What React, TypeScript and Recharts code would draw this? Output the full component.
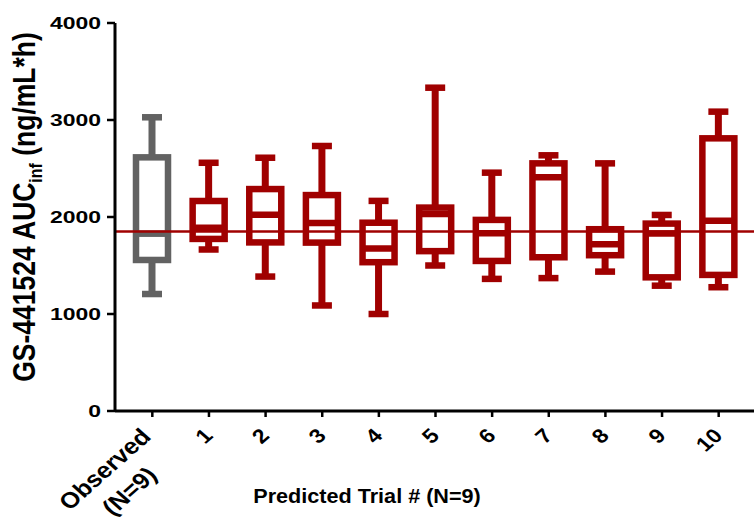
import React from 'react';
import { BarChart, Bar, XAxis, YAxis, ReferenceLine } from 'recharts';

// box plot values, one entry per group
const categories = ['Observed\n(N=9)', '1', '2', '3', '4', '5', '6', '7', '8', '9', '10'];
const whiskerLow = [1206, 1665, 1386, 1088, 1000, 1500, 1362, 1370, 1437, 1292, 1276];
const q1 = [1557, 1774, 1738, 1736, 1534, 1648, 1547, 1585, 1606, 1378, 1403];
const median = [1828, 1888, 2022, 1938, 1674, 2032, 1833, 2410, 1720, 1830, 1962];
const q3 = [2615, 2165, 2288, 2226, 1941, 2097, 1970, 2553, 1874, 1932, 2811];
const whiskerHigh = [3028, 2559, 2611, 2732, 2166, 3333, 2457, 2636, 2553, 2021, 3086];
const yTicks = [0, 1000, 2000, 3000, 4000];
const referenceValue = 1850;

const RED = '#a00000';
const GRAY = '#626262';
const FONT = '"Liberation Sans", Arial, Helvetica, sans-serif';

const data = categories.map((name, i) => ({
  name,
  range: [whiskerLow[i], whiskerHigh[i]],
  min: whiskerLow[i],
  q1: q1[i],
  median: median[i],
  q3: q3[i],
  max: whiskerHigh[i],
}));

// the bar covers min..max; the rest of the box is placed inside that span
const BoxShape = (props: any) => {
  const { x, y, width, height, payload, index } = props;
  if (x == null || y == null) return null;
  const top = Math.min(y, y + height);
  const span = Math.abs(height);
  const range = payload.max - payload.min;
  const toY = (v: number) => top + ((payload.max - v) / range) * span;
  const cx = x + width / 2;
  const color = index === 0 ? GRAY : RED;
  const sw = 6.5;
  const capW = 20;
  const yMax = toY(payload.max);
  const yQ3 = toY(payload.q3);
  const yMed = toY(payload.median);
  const yQ1 = toY(payload.q1);
  const yMin = toY(payload.min);
  return (
    <g>
      <line x1={cx} x2={cx} y1={yMax} y2={yQ3} stroke={color} strokeWidth={7} />
      <line x1={cx} x2={cx} y1={yQ1} y2={yMin} stroke={color} strokeWidth={7} />
      <rect x={cx - capW / 2} y={yMax - sw / 2} width={capW} height={sw} fill={color} />
      <rect x={cx - capW / 2} y={yMin - sw / 2} width={capW} height={sw} fill={color} />
      <rect x={x} y={yQ3} width={width} height={yQ1 - yQ3} fill="none" stroke={color} strokeWidth={sw} />
      <line x1={x} x2={x + width} y1={yMed} y2={yMed} stroke={color} strokeWidth={sw} />
    </g>
  );
};

// tick labels are drawn wider than the font's natural width
const YTick = ({ x, y, payload }: any) => (
  <g transform={`translate(${x},${y}) scale(1.35,1)`}>
    <text textAnchor="end" dy="0.36em" fontSize={17} fontWeight="bold" fontFamily={FONT} fill="#000">
      {payload.value}
    </text>
  </g>
);

const XTick = ({ x, y, payload }: any) => {
  const lines = String(payload.value).split('\n');
  if (lines.length > 1) {
    const fs = 22.5;
    const firstLen = lines[0].length * 0.577 * fs;
    return (
      <g transform={`translate(${x},${y + 21}) scale(1.13,1) rotate(-45)`}>
        <text textAnchor="end" fontSize={fs} fontWeight="bold" fontFamily={FONT} fill="#000">
          {lines[0]}
        </text>
        <text x={-firstLen / 2} y={31} textAnchor="middle" fontSize={fs} fontWeight="bold" fontFamily={FONT} fill="#000">
          {lines[1]}
        </text>
      </g>
    );
  }
  return (
    <g transform={`translate(${x + 5},${y + 20}) scale(1.15,1) rotate(-45)`}>
      <text textAnchor="end" fontSize={20} fontWeight="bold" fontFamily={FONT} fill="#000">
        {payload.value}
      </text>
    </g>
  );
};

const XTitle = () => (
  <g transform="translate(367,503) scale(1.03,1)">
    <text textAnchor="middle" fontSize={21} fontWeight="bold" fontFamily={FONT} fill="#000">
      Predicted Trial # (N=9)
    </text>
  </g>
);

const YTitle = () => (
  <g transform="translate(35,207) scale(1.18,1) rotate(-90)">
    <text textAnchor="middle" fontSize={26.5} fontWeight="bold" fontFamily={FONT} fill="#000">
      GS-441524 AUC
      <tspan fontSize={16} dy={6}>inf</tspan>
      <tspan dy={-6}> (ng/mL*h)</tspan>
    </text>
  </g>
);

export default function App() {
  return (
    <div style={{ position: 'absolute', left: 0, top: 0, background: '#fff' }}>
      <BarChart width={754} height={521} data={data} margin={{ top: 23, right: 0, bottom: 0, left: 0 }}>
        <XAxis
          dataKey="name"
          height={110}
          padding={{ left: 9, right: 7 }}
          interval={0}
          tickSize={6}
          tickMargin={0}
          axisLine={{ stroke: '#000', strokeWidth: 3 }}
          tickLine={{ stroke: '#000', strokeWidth: 2.5 }}
          tick={<XTick />}
          label={<XTitle />}
        />
        <YAxis
          width={115}
          domain={[0, 4000]}
          ticks={yTicks}
          interval={0}
          allowDataOverflow
          tickSize={8}
          tickMargin={6}
          axisLine={{ stroke: '#000', strokeWidth: 3 }}
          tickLine={{ stroke: '#000', strokeWidth: 2.5 }}
          tick={<YTick />}
          label={<YTitle />}
        />
        <Bar dataKey="range" barSize={32} isAnimationActive={false} shape={BoxShape} />
        <ReferenceLine y={referenceValue} stroke={RED} strokeWidth={2.5} />
      </BarChart>
    </div>
  );
}
